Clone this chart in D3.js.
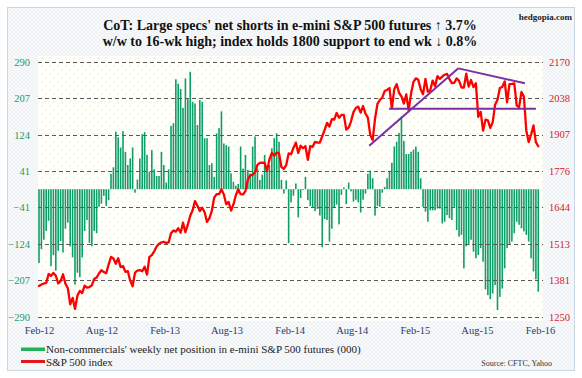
<!DOCTYPE html>
<html><head><meta charset="utf-8">
<script src="https://cdn.jsdelivr.net/npm/d3@7"></script>
<style>body{margin:0;background:#fff;} svg{display:block;} text{font-family:"Liberation Serif","Times New Roman",serif;}</style>
</head><body><svg id="c" width="582" height="378"></svg>
<script>
// ---------------- DATA ----------------
const firstWeek = new Date(2012, 1, 17);
const lastWeekStop = new Date(2016, 1, 13);
const weeks = d3.timeFriday.range(firstWeek, lastWeekStop); // weekly dates

// Non-commercials' weekly net position in e-mini S&P 500 futures (000)
const netPosition = [
 -168,-136,-115,-95,-72,-175,-150,-185,-140,-118,
 -144,-90,-76,-130,-155,-217,-190,-200,-155,-95,
 -70,-122,-130,-95,-100,-40,-33,-15,-38,-25,
 35,50,131,118,95,132,85,55,70,95,
 -8,22,70,125,130,78,40,89,45,30,
 30,85,55,15,45,144,150,250,240,228,
 185,252,205,267,199,195,146,203,199,116,
 116,55,59,28,127,139,177,104,100,97,
 36,17,8,12,97,47,78,44,36,97,
 120,47,21,33,78,44,55,93,116,127,
 108,21,-10,20,-123,-30,-15,13,-64,-20,
 -2,28,-25,-38,-42,-50,-45,-60,-132,-68,
 -70,-119,-90,-42,-35,-80,-13,4,-34,15,
 -5,-28,-24,-30,-53,-24,-10,35,42,25,
 -60,-38,-40,-8,5,25,42,60,97,108,
 128,165,110,80,80,85,90,97,85,25,
 -40,-51,-74,-48,-48,-48,-44,-44,-78,-74,
 -59,-66,-70,-40,-93,-108,-104,-180,-130,-127,
 -115,-142,-157,-150,-134,-165,-228,-241,-250,-237,
 -218,-275,-245,-226,-180,-134,-127,-119,-100,-74,
 -81,-89,-96,-104,-119,-157,-187,-205,-233
];

// S&P 500 index (weekly close)
const sp500 = [
 1361,1366,1370,1371,1404,1397,1408,1398,1370,1378,
 1403,1369,1353,1295,1318,1278,1326,1343,1335,1362,
 1355,1357,1363,1386,1391,1406,1418,1411,1407,1438,
 1466,1460,1441,1461,1429,1433,1412,1414,1380,1360,
 1409,1416,1418,1414,1430,1402,
 1466,1472,1486,1503,1513,1518,1520,1516,1518,1551,
 1561,1557,1569,1553,1589,1555,1582,1614,1634,1667,
 1650,1631,1643,1627,1592,1606,1632,1680,1692,1692,
 1710,1691,1656,1664,1633,1655,1688,1710,1692,1691,
 1703,1745,1760,1762,1771,1798,1805,1806,1805,1775,
 1818,1841,
 1831,1842,1839,1790,1783,1797,1839,1836,1859,1878,
 1841,1867,1858,1865,1816,1865,1863,1881,1878,1878,
 1901,1924,1949,1936,1963,1961,1985,1968,1978,1978,
 1925,1932,1955,1988,2003,2008,1986,2010,1983,1968,
 1906,1887,1965,2018,2032,2040,2064,2068,2075,2002,
 2071,2089,
 2058,2045,2019,2052,1995,2055,2097,2110,2105,2071,
 2053,2108,2061,2067,2102,2081,2118,2108,2116,2123,
 2126,2107,2093,2094,2110,2101,2077,2077,2127,2080,
 2104,2078,2092,1971,1989,1921,1961,1958,1931,1951,
 2015,2033,2075,2079,2099,2023,2089,2090,2092,2012,
 2006,2061,2044,
 1922,1880,1907,1940,1880,1865
];

const leftTicks  = [290, 207, 124, 41, -41, -124, -207, -290];
const rightTicks = [2170, 2038, 1907, 1776, 1644, 1513, 1381, 1250];
const xTickLabels = ["Feb-12","Aug-12","Feb-13","Aug-13","Feb-14","Aug-14","Feb-15","Aug-15","Feb-16"];

// hand-drawn purple trend lines: [date, index level]
const trendRise   = [[new Date(2014, 9, 7),  1867], [new Date(2015, 5, 24), 2146]];
const trendFall   = [[new Date(2015, 5, 24), 2146], [new Date(2016, 0, 4),  2092]];
const supportLine = [[new Date(2014, 11, 4), 2000], [new Date(2016, 1, 5),  2000]];

// ---------------- LAYOUT ----------------
const svg = d3.select("#c");
const defs = svg.append("defs");

const hatch = defs.append("pattern").attr("id","hatch").attr("patternUnits","userSpaceOnUse")
  .attr("width",4).attr("height",4);
hatch.append("rect").attr("width",4).attr("height",4).attr("fill","#f7f9fb");
hatch.append("path").attr("d","M0,4 L4,0 M0,0 L4,4").attr("stroke","#e9eef3").attr("stroke-width",0.6);

const dots = defs.append("pattern").attr("id","dots").attr("patternUnits","userSpaceOnUse")
  .attr("width",8).attr("height",8);
dots.append("rect").attr("width",8).attr("height",8).attr("fill","#fffffb");
dots.append("circle").attr("cx",2).attr("cy",2).attr("r",0.7).attr("fill","#efe7a8");
dots.append("circle").attr("cx",6).attr("cy",6).attr("r",0.7).attr("fill","#efe7a8");

svg.append("rect").attr("width",582).attr("height",378).attr("fill","#ffffff");
svg.append("rect").attr("x",7.5).attr("y",7.5).attr("width",567).attr("height",363)
  .attr("fill","url(#hatch)").attr("stroke","#c9d7e4").attr("stroke-width",1);

const plotL = 38, plotR = 543, plotT = 56, plotB = 321;
svg.append("rect").attr("x",plotL).attr("y",plotT).attr("width",plotR-plotL).attr("height",plotB-plotT)
  .attr("fill","url(#dots)");

const x  = d3.scaleTime().domain([new Date(2012,1,17), new Date(2016,1,17)]).range([39, 540]);
const yL = d3.scaleLinear().domain([-290, 290]).range([316.7, 61.7]);
const yR = d3.scaleLinear().domain([1250, 2170]).range([316.7, 61.7]);

// bars
const bw = 1.6;
svg.append("g").selectAll("rect").data(netPosition).join("rect")
  .attr("x", (d,i) => x(weeks[i]) - bw/2)
  .attr("y", d => Math.min(yL(0), yL(d)))
  .attr("width", bw)
  .attr("height", d => Math.abs(yL(d) - yL(0)))
  .attr("fill", "#0f9e68");

// gridlines (over bars)
svg.append("g").selectAll("line").data(leftTicks).join("line")
  .attr("x1", plotL).attr("x2", plotR)
  .attr("y1", d => Math.round(yL(d)) + 0.5).attr("y2", d => Math.round(yL(d)) + 0.5)
  .attr("stroke", "#5a5a5a").attr("stroke-width", 1).attr("stroke-dasharray", "4,3");

// S&P line
const line = d3.line().x((d,i) => x(weeks[i])).y(d => yR(d)).curve(d3.curveLinear);
svg.append("path").datum(sp500).attr("d", line)
  .attr("fill","none").attr("stroke","#ff0000").attr("stroke-width",2.3)
  .attr("stroke-linejoin","round").attr("stroke-linecap","round");

// purple trend lines
const tl = d3.line().x(d => x(d[0])).y(d => yR(d[1]));
[trendRise, trendFall, supportLine].forEach(seg => {
  svg.append("path").datum(seg).attr("d", tl).attr("fill","none")
    .attr("stroke","#7a2fa8").attr("stroke-width",2);
});

// axes
const fs = 10.5;
const gL = svg.append("g").attr("transform","translate(30,0)")
  .call(d3.axisLeft(yL).tickValues(leftTicks).tickSize(0).tickPadding(0).tickFormat(d3.format("d")));
gL.select(".domain").remove();
gL.selectAll("text").attr("fill","#23996a").style("font-size", fs+"px")
  .style("font-family","'Liberation Serif',serif");

const gR = svg.append("g").attr("transform","translate(549,0)")
  .call(d3.axisRight(yR).tickValues(rightTicks).tickSize(0).tickPadding(0).tickFormat(d3.format("d")));
gR.select(".domain").remove();
gR.selectAll("text").attr("fill","#d4202a").style("font-size", fs+"px")
  .style("font-family","'Liberation Serif',serif");

const tickDates = xTickLabels.map((d,i) => d3.timeMonth.offset(firstWeek, 6*i));
const gX = svg.append("g").attr("transform","translate(0,316.7)")
  .call(d3.axisBottom(x).tickValues(tickDates).tickSize(0).tickPadding(10).tickFormat((d,i) => xTickLabels[i]));
gX.select(".domain").remove();
gX.selectAll("text").attr("fill","#2b3b6b").style("font-size", fs+"px")
  .style("font-family","'Liberation Serif',serif");

// title
svg.append("text").attr("x",290).attr("y",30).attr("text-anchor","middle")
  .style("font-size","14px").style("font-weight","bold").attr("fill","#111")
  .text("CoT: Large specs' net shorts in e-mini S&P 500 futures \u2191 3.7%");
svg.append("text").attr("x",290).attr("y",46).attr("text-anchor","middle")
  .style("font-size","14px").style("font-weight","bold").attr("fill","#111")
  .text("w/w to 16-wk high; index holds 1800 support to end wk \u2193 0.8%");
svg.append("text").attr("x",572).attr("y",20).attr("text-anchor","end")
  .style("font-size","9px").style("font-weight","bold").attr("fill","#222")
  .text("hedgopia.com");

// legend
svg.append("rect").attr("x",21).attr("y",347.5).attr("width",24).attr("height",3.5).attr("fill","#22b158");
svg.append("text").attr("x",46).attr("y",352.5).style("font-size","11px").attr("fill","#222")
  .text("Non-commercials' weekly net position in e-mini S&P 500 futures (000)");
svg.append("rect").attr("x",21).attr("y",360).attr("width",24).attr("height",3).attr("fill","#e8141c");
svg.append("text").attr("x",46).attr("y",365.5).style("font-size","11px").attr("fill","#222")
  .text("S&P 500 index");
svg.append("text").attr("x",552).attr("y",366).attr("text-anchor","end")
  .style("font-size","8px").attr("fill","#333")
  .text("Source: CFTC, Yahoo");
</script></body></html>
